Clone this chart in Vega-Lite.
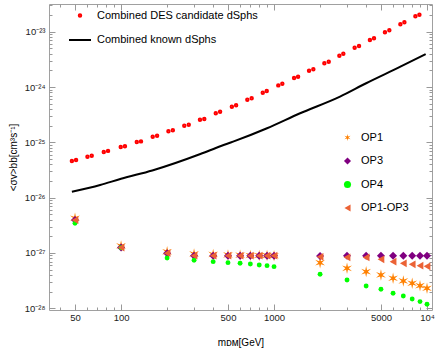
{
  "$schema": "https://vega.github.io/schema/vega-lite/v6.json",
  "width": 383,
  "height": 306,
  "autosize": {"type": "none"},
  "padding": {"left": 49, "top": 4, "right": 4, "bottom": 38},
  "config": {
    "font": "Liberation Sans",
    "view": {"stroke": "#a0a0a0", "strokeWidth": 1},
    "axis": {"labelFont": "Liberation Sans", "labelFontSize": 9.5, "labelColor": "#222222", "tickColor": "#999999", "tickWidth": 1, "domain": false, "grid": false, "titleFont": "Liberation Sans", "titleFontSize": 10, "titleFontWeight": "normal", "titleColor": "#000000"},
    "legend": {"labelFont": "Liberation Sans", "labelFontSize": 11, "labelColor": "#000000", "labelLimit": 400}
  },
  "datasets": {
    "des": [
      {"m": 47.7, "v": 4.6e-26, "series": "Combined DES candidate dSphs"},
      {"m": 50.8, "v": 4.8e-26, "series": "Combined DES candidate dSphs"},
      {"m": 60.3, "v": 5.5e-26, "series": "Combined DES candidate dSphs"},
      {"m": 64.3, "v": 5.7e-26, "series": "Combined DES candidate dSphs"},
      {"m": 77.1, "v": 6.7e-26, "series": "Combined DES candidate dSphs"},
      {"m": 82.2, "v": 7.0e-26, "series": "Combined DES candidate dSphs"},
      {"m": 99.5, "v": 8.2e-26, "series": "Combined DES candidate dSphs"},
      {"m": 106, "v": 8.5e-26, "series": "Combined DES candidate dSphs"},
      {"m": 126.7, "v": 1.01e-25, "series": "Combined DES candidate dSphs"},
      {"m": 135, "v": 1.04e-25, "series": "Combined DES candidate dSphs"},
      {"m": 161, "v": 1.26e-25, "series": "Combined DES candidate dSphs"},
      {"m": 172, "v": 1.32e-25, "series": "Combined DES candidate dSphs"},
      {"m": 204, "v": 1.58e-25, "series": "Combined DES candidate dSphs"},
      {"m": 218, "v": 1.65e-25, "series": "Combined DES candidate dSphs"},
      {"m": 259, "v": 2.0e-25, "series": "Combined DES candidate dSphs"},
      {"m": 277, "v": 2.08e-25, "series": "Combined DES candidate dSphs"},
      {"m": 328, "v": 2.56e-25, "series": "Combined DES candidate dSphs"},
      {"m": 350, "v": 2.64e-25, "series": "Combined DES candidate dSphs"},
      {"m": 416, "v": 3.35e-25, "series": "Combined DES candidate dSphs"},
      {"m": 444, "v": 3.58e-25, "series": "Combined DES candidate dSphs"},
      {"m": 530, "v": 4.41e-25, "series": "Combined DES candidate dSphs"},
      {"m": 565, "v": 4.68e-25, "series": "Combined DES candidate dSphs"},
      {"m": 669, "v": 5.9e-25, "series": "Combined DES candidate dSphs"},
      {"m": 714, "v": 6.25e-25, "series": "Combined DES candidate dSphs"},
      {"m": 844, "v": 7.89e-25, "series": "Combined DES candidate dSphs"},
      {"m": 896, "v": 8.47e-25, "series": "Combined DES candidate dSphs"},
      {"m": 1066, "v": 1.07e-24, "series": "Combined DES candidate dSphs"},
      {"m": 1133, "v": 1.15e-24, "series": "Combined DES candidate dSphs"},
      {"m": 1352, "v": 1.46e-24, "series": "Combined DES candidate dSphs"},
      {"m": 1436, "v": 1.54e-24, "series": "Combined DES candidate dSphs"},
      {"m": 1694, "v": 1.97e-24, "series": "Combined DES candidate dSphs"},
      {"m": 1807, "v": 2.09e-24, "series": "Combined DES candidate dSphs"},
      {"m": 2133, "v": 2.69e-24, "series": "Combined DES candidate dSphs"},
      {"m": 2278, "v": 2.87e-24, "series": "Combined DES candidate dSphs"},
      {"m": 2673, "v": 3.68e-24, "series": "Combined DES candidate dSphs"},
      {"m": 2838, "v": 4.0e-24, "series": "Combined DES candidate dSphs"},
      {"m": 3365, "v": 5.14e-24, "series": "Combined DES candidate dSphs"},
      {"m": 3594, "v": 5.52e-24, "series": "Combined DES candidate dSphs"},
      {"m": 4234, "v": 7.08e-24, "series": "Combined DES candidate dSphs"},
      {"m": 4503, "v": 7.6e-24, "series": "Combined DES candidate dSphs"},
      {"m": 5309, "v": 9.75e-24, "series": "Combined DES candidate dSphs"},
      {"m": 5672, "v": 1.06e-23, "series": "Combined DES candidate dSphs"},
      {"m": 6697, "v": 1.36e-23, "series": "Combined DES candidate dSphs"},
      {"m": 7115, "v": 1.48e-23, "series": "Combined DES candidate dSphs"},
      {"m": 8395, "v": 1.9e-23, "series": "Combined DES candidate dSphs"},
      {"m": 8920, "v": 2.03e-23, "series": "Combined DES candidate dSphs"}
    ],
    "known": [
      {"m": 47.7, "v": 1.28e-26},
      {"m": 73, "v": 1.69e-26},
      {"m": 100, "v": 2.2e-26},
      {"m": 160, "v": 3.1e-26},
      {"m": 330, "v": 6.15e-26},
      {"m": 450, "v": 8.6e-26},
      {"m": 540, "v": 1.03e-25},
      {"m": 900, "v": 1.8e-25},
      {"m": 1480, "v": 3.35e-25},
      {"m": 2700, "v": 6.7e-25},
      {"m": 4000, "v": 1.17e-24},
      {"m": 6700, "v": 2.33e-24},
      {"m": 9800, "v": 3.95e-24}
    ],
    "ops": [
      {"m": 50, "v": 4.24e-27, "series": "OP1"},
      {"m": 100, "v": 1.34e-27, "series": "OP1"},
      {"m": 200, "v": 1.05e-27, "series": "OP1"},
      {"m": 300, "v": 9.6e-28, "series": "OP1"},
      {"m": 400, "v": 9.4e-28, "series": "OP1"},
      {"m": 500, "v": 9.2e-28, "series": "OP1"},
      {"m": 600, "v": 9.1e-28, "series": "OP1"},
      {"m": 700, "v": 9.0e-28, "series": "OP1"},
      {"m": 800, "v": 9.0e-28, "series": "OP1"},
      {"m": 900, "v": 9.0e-28, "series": "OP1"},
      {"m": 1000, "v": 8.9e-28, "series": "OP1"},
      {"m": 2000, "v": 6.67e-28, "series": "OP1"},
      {"m": 3000, "v": 5.28e-28, "series": "OP1"},
      {"m": 4000, "v": 4.59e-28, "series": "OP1"},
      {"m": 5000, "v": 4.0e-28, "series": "OP1"},
      {"m": 6000, "v": 3.49e-28, "series": "OP1"},
      {"m": 7000, "v": 3.12e-28, "series": "OP1"},
      {"m": 8000, "v": 2.83e-28, "series": "OP1"},
      {"m": 9000, "v": 2.56e-28, "series": "OP1"},
      {"m": 10000, "v": 2.3e-28, "series": "OP1"},
      {"m": 50, "v": 3.94e-27, "series": "OP3"},
      {"m": 100, "v": 1.25e-27, "series": "OP3"},
      {"m": 200, "v": 9.9e-28, "series": "OP3"},
      {"m": 300, "v": 8.9e-28, "series": "OP3"},
      {"m": 400, "v": 8.9e-28, "series": "OP3"},
      {"m": 500, "v": 8.9e-28, "series": "OP3"},
      {"m": 600, "v": 8.9e-28, "series": "OP3"},
      {"m": 700, "v": 8.9e-28, "series": "OP3"},
      {"m": 800, "v": 8.9e-28, "series": "OP3"},
      {"m": 900, "v": 8.9e-28, "series": "OP3"},
      {"m": 1000, "v": 8.9e-28, "series": "OP3"},
      {"m": 2000, "v": 8.8e-28, "series": "OP3"},
      {"m": 3000, "v": 8.9e-28, "series": "OP3"},
      {"m": 4000, "v": 8.9e-28, "series": "OP3"},
      {"m": 5000, "v": 8.9e-28, "series": "OP3"},
      {"m": 6000, "v": 8.9e-28, "series": "OP3"},
      {"m": 7000, "v": 8.9e-28, "series": "OP3"},
      {"m": 8000, "v": 8.9e-28, "series": "OP3"},
      {"m": 9000, "v": 8.9e-28, "series": "OP3"},
      {"m": 10000, "v": 8.9e-28, "series": "OP3"},
      {"m": 50, "v": 3.44e-27, "series": "OP4"},
      {"m": 100, "v": 1.24e-27, "series": "OP4"},
      {"m": 200, "v": 8.1e-28, "series": "OP4"},
      {"m": 300, "v": 7.4e-28, "series": "OP4"},
      {"m": 400, "v": 6.96e-28, "series": "OP4"},
      {"m": 500, "v": 6.67e-28, "series": "OP4"},
      {"m": 600, "v": 6.5e-28, "series": "OP4"},
      {"m": 700, "v": 6.32e-28, "series": "OP4"},
      {"m": 800, "v": 6.07e-28, "series": "OP4"},
      {"m": 900, "v": 5.89e-28, "series": "OP4"},
      {"m": 1000, "v": 5.65e-28, "series": "OP4"},
      {"m": 2000, "v": 4.11e-28, "series": "OP4"},
      {"m": 3000, "v": 3.25e-28, "series": "OP4"},
      {"m": 4000, "v": 2.53e-28, "series": "OP4"},
      {"m": 5000, "v": 2.2e-28, "series": "OP4"},
      {"m": 6000, "v": 1.87e-28, "series": "OP4"},
      {"m": 7000, "v": 1.67e-28, "series": "OP4"},
      {"m": 8000, "v": 1.47e-28, "series": "OP4"},
      {"m": 9000, "v": 1.32e-28, "series": "OP4"},
      {"m": 10000, "v": 1.18e-28, "series": "OP4"},
      {"m": 50, "v": 3.94e-27, "series": "OP1-OP3"},
      {"m": 100, "v": 1.25e-27, "series": "OP1-OP3"},
      {"m": 200, "v": 9.9e-28, "series": "OP1-OP3"},
      {"m": 300, "v": 8.9e-28, "series": "OP1-OP3"},
      {"m": 400, "v": 8.9e-28, "series": "OP1-OP3"},
      {"m": 500, "v": 8.9e-28, "series": "OP1-OP3"},
      {"m": 600, "v": 8.9e-28, "series": "OP1-OP3"},
      {"m": 700, "v": 8.9e-28, "series": "OP1-OP3"},
      {"m": 800, "v": 8.9e-28, "series": "OP1-OP3"},
      {"m": 900, "v": 8.9e-28, "series": "OP1-OP3"},
      {"m": 1000, "v": 8.9e-28, "series": "OP1-OP3"},
      {"m": 2000, "v": 8.5e-28, "series": "OP1-OP3"},
      {"m": 3000, "v": 8.35e-28, "series": "OP1-OP3"},
      {"m": 4000, "v": 8.3e-28, "series": "OP1-OP3"},
      {"m": 5000, "v": 7.69e-28, "series": "OP1-OP3"},
      {"m": 6000, "v": 6.96e-28, "series": "OP1-OP3"},
      {"m": 7000, "v": 6.5e-28, "series": "OP1-OP3"},
      {"m": 8000, "v": 6.24e-28, "series": "OP1-OP3"},
      {"m": 9000, "v": 5.89e-28, "series": "OP1-OP3"},
      {"m": 10000, "v": 5.74e-28, "series": "OP1-OP3"}
    ]
  },
  "layer": [
    {
      "layer": [
        {
          "data": {"name": "known"},
          "mark": {"type": "line", "color": "#000000", "strokeWidth": 2, "interpolate": "monotone"},
          "encoding": {
            "x": {"field": "m", "type": "quantitative", "scale": {"type": "log", "domain": [33.8, 10780], "nice": false},
              "axis": {"orient": "bottom", "values": [40,50,60,70,80,90,100,200,300,400,500,600,700,800,900,1000,2000,3000,4000,5000,6000,7000,8000,9000,10000],
                "labelExpr": "datum.value == 10000 ? '10⁴' : (indexof([50,100,500,1000,5000], datum.value) >= 0 ? format(datum.value, 'd') : '')",
                "labelOverlap": false, "labelFlush": false,
                "tickSize": {"condition": {"test": "indexof([50,100,500,1000,5000,10000], datum.value) >= 0", "value": -6}, "value": -3},
                "labelPadding": 8.5,
                "title": "mᴅᴍ[GeV]", "titleY": 35, "titleBaseline": "alphabetic"}},
            "y": {"field": "v", "type": "quantitative", "scale": {"type": "log", "domain": [9.3e-29, 3.17e-23], "nice": false},
              "axis": {"orient": "left",
                "values": [1e-28,2e-28,3e-28,4e-28,5e-28,6e-28,7e-28,8e-28,9e-28,1e-27,2e-27,3e-27,4e-27,5e-27,6e-27,7e-27,8e-27,9e-27,1e-26,2e-26,3e-26,4e-26,5e-26,6e-26,7e-26,8e-26,9e-26,1e-25,2e-25,3e-25,4e-25,5e-25,6e-25,7e-25,8e-25,9e-25,1e-24,2e-24,3e-24,4e-24,5e-24,6e-24,7e-24,8e-24,9e-24,1e-23,2e-23,3e-23],
                "labelExpr": "abs(log(datum.value)/LN10 - round(log(datum.value)/LN10)) > 0.001 ? '' : (round(log(datum.value)/LN10) == -23 ? '10⁻²³' : round(log(datum.value)/LN10) == -24 ? '10⁻²⁴' : round(log(datum.value)/LN10) == -25 ? '10⁻²⁵' : round(log(datum.value)/LN10) == -26 ? '10⁻²⁶' : round(log(datum.value)/LN10) == -27 ? '10⁻²⁷' : '10⁻²⁸')",
                "labelOverlap": false, "labelFlush": false,
                "tickSize": {"condition": {"test": "abs(log(datum.value)/LN10 - round(log(datum.value)/LN10)) < 0.001", "value": -6}, "value": -3},
                "labelPadding": 10,
                "title": "<σv>bb[cm³s⁻¹]", "titleX": -36, "titleY": 153, "titleAngle": -90, "titleAlign": "center", "titleBaseline": "middle"}}
          }
        },
        {
          "data": {"name": "des"},
          "mark": {"type": "point", "filled": false, "opacity": 1, "strokeWidth": 2},
          "encoding": {
            "x": {"field": "m", "type": "quantitative", "scale": {"type": "log", "domain": [33.8, 10780], "nice": false}},
            "y": {"field": "v", "type": "quantitative", "scale": {"type": "log", "domain": [9.3e-29, 3.17e-23], "nice": false}},
            "color": {"field": "series", "type": "nominal",
              "scale": {"domain": ["Combined DES candidate dSphs", "Combined known dSphs"], "range": ["#ff0000", "#000000"]},
              "legend": {"title": null, "orient": "none", "legendX": 19, "legendY": 6, "rowPadding": 7, "labelOffset": 5, "symbolStrokeWidth": 2}},
            "shape": {"field": "series", "type": "nominal",
              "scale": {"domain": ["Combined DES candidate dSphs", "Combined known dSphs"], "range": ["circle", "stroke"]},
              "legend": {"title": null, "orient": "none", "legendX": 19, "legendY": 6, "rowPadding": 7, "labelOffset": 5, "symbolStrokeWidth": 2}},
            "size": {"field": "series", "type": "nominal",
              "scale": {"domain": ["Combined DES candidate dSphs", "Combined known dSphs"], "range": [6, 484]},
              "legend": {"title": null, "orient": "none", "legendX": 19, "legendY": 6, "rowPadding": 7, "labelOffset": 5, "symbolStrokeWidth": 2}}
          }
        }
      ]
    },
    {
      "data": {"name": "ops"},
      "encoding": {
        "x": {"field": "m", "type": "quantitative", "scale": {"type": "log", "domain": [33.8, 10780], "nice": false}},
        "y": {"field": "v", "type": "quantitative", "scale": {"type": "log", "domain": [9.3e-29, 3.17e-23], "nice": false}},
        "color": {"field": "series", "type": "nominal",
          "scale": {"domain": ["OP1", "OP3", "OP4", "OP1-OP3"], "range": ["#ff8000", "#800080", "#00ff00", "#eb6235"]}},
        "shape": {"field": "series", "type": "nominal",
          "scale": {"domain": ["OP1", "OP3", "OP4", "OP1-OP3"], "range": ["M0.866,-0.5L0.16,-0.26L0,-1L-0.16,-0.26L-0.866,-0.5L-0.3,0L-0.866,0.5L-0.16,0.26L0,1L0.16,0.26L0.866,0.5L0.3,0Z", "diamond", "circle", "triangle-left"]}}
      },
      "layer": [
        {
          "transform": [{"filter": "datum.series === 'OP1'"}],
          "mark": {"type": "point", "filled": true, "opacity": 1, "size": 130},
          "encoding": {
            "x": {"field": "m", "type": "quantitative", "scale": {"type": "log", "domain": [33.8, 10780], "nice": false},
              "axis": {"orient": "top", "labels": false, "title": null, "values": [40,50,60,70,80,90,100,200,300,400,500,600,700,800,900,1000,2000,3000,4000,5000,6000,7000,8000,9000,10000],
                "tickSize": {"condition": {"test": "indexof([50,100,500,1000,5000,10000], datum.value) >= 0", "value": -6}, "value": -3}}},
            "y": {"field": "v", "type": "quantitative", "scale": {"type": "log", "domain": [9.3e-29, 3.17e-23], "nice": false},
              "axis": {"orient": "right", "labels": false, "title": null,
                "values": [1e-28,2e-28,3e-28,4e-28,5e-28,6e-28,7e-28,8e-28,9e-28,1e-27,2e-27,3e-27,4e-27,5e-27,6e-27,7e-27,8e-27,9e-27,1e-26,2e-26,3e-26,4e-26,5e-26,6e-26,7e-26,8e-26,9e-26,1e-25,2e-25,3e-25,4e-25,5e-25,6e-25,7e-25,8e-25,9e-25,1e-24,2e-24,3e-24,4e-24,5e-24,6e-24,7e-24,8e-24,9e-24,1e-23,2e-23,3e-23],
                "tickSize": {"condition": {"test": "abs(log(datum.value)/LN10 - round(log(datum.value)/LN10)) < 0.001", "value": -6}, "value": -3}}},
            "color": {"field": "series", "type": "nominal",
              "scale": {"domain": ["OP1", "OP3", "OP4", "OP1-OP3"], "range": ["#ff8000", "#800080", "#00ff00", "#eb6235"]},
              "legend": {"title": null, "orient": "none", "legendX": 293, "legendY": 128, "rowPadding": 11.5, "labelOffset": 8, "symbolSize": 50}},
            "shape": {"field": "series", "type": "nominal",
              "scale": {"domain": ["OP1", "OP3", "OP4", "OP1-OP3"], "range": ["M0.866,-0.5L0.16,-0.26L0,-1L-0.16,-0.26L-0.866,-0.5L-0.3,0L-0.866,0.5L-0.16,0.26L0,1L0.16,0.26L0.866,0.5L0.3,0Z", "diamond", "circle", "triangle-left"]},
              "legend": {"title": null, "orient": "none", "legendX": 293, "legendY": 128, "rowPadding": 11.5, "labelOffset": 8, "symbolSize": 50}}
          }
        },
        {
          "transform": [{"filter": "datum.series === 'OP3'"}],
          "mark": {"type": "point", "filled": true, "opacity": 1, "size": 64}
        },
        {
          "transform": [{"filter": "datum.series === 'OP4'"}],
          "mark": {"type": "point", "filled": true, "opacity": 1, "size": 24}
        },
        {
          "transform": [{"filter": "datum.series === 'OP1-OP3'"}],
          "mark": {"type": "point", "filled": true, "opacity": 1, "size": 60}
        }
      ]
    }
  ],
  "resolve": {"scale": {"color": "independent", "shape": "independent", "size": "independent"}, "axis": {"x": "independent", "y": "independent"}}
}
